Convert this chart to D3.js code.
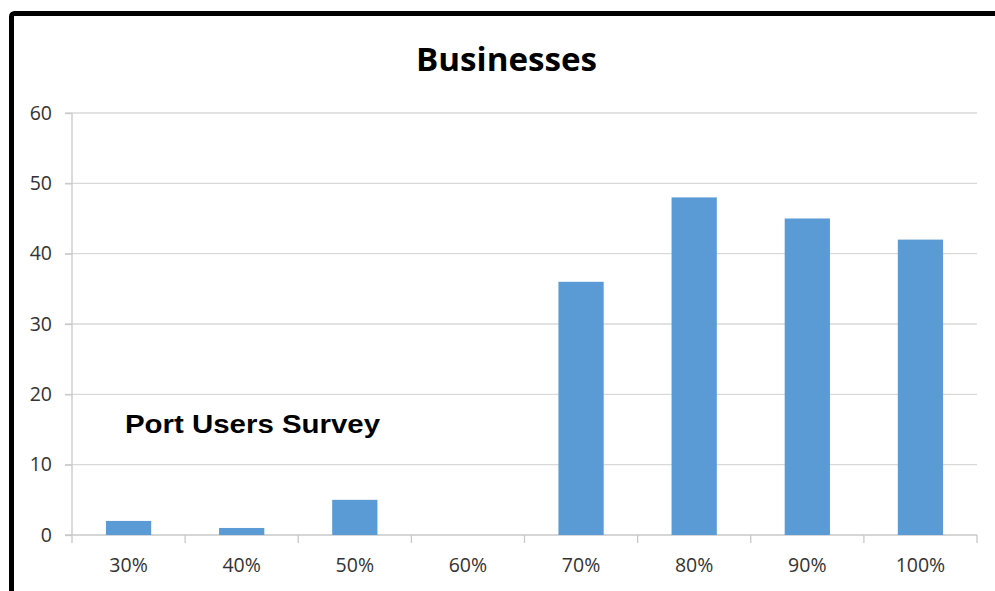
<!DOCTYPE html>
<html>
<head>
<meta charset="utf-8">
<script src="https://cdn.jsdelivr.net/npm/d3@7"></script>
<style>
  body { margin: 0; background: #fff; }
  svg { display: block; }
</style>
</head>
<body>
<div id="chart-container"></div>
<script>
// Chart data
const categories = ["30%", "40%", "50%", "60%", "70%", "80%", "90%", "100%"];
const counts = [2, 1, 5, 0, 36, 48, 45, 42];
const yTicks = [0, 10, 20, 30, 40, 50, 60];
const title = "Businesses";
const note = "Port Users Survey";

const W = 995, H = 591;
const margin = { top: 113, right: 18, bottom: 56, left: 72 };
const width = W - margin.left - margin.right;
const height = H - margin.top - margin.bottom;
const labelFont = "'Open Sans', Lato, sans-serif";

const svg = d3.select("#chart-container")
  .append("svg")
  .attr("width", W)
  .attr("height", H);

// Outer black frame (only top and left visible in the picture)
svg.append("rect")
  .attr("x", 11.5)
  .attr("y", 13.5)
  .attr("width", W + 20)
  .attr("height", H + 20)
  .attr("rx", 3)
  .attr("fill", "none")
  .attr("stroke", "#000")
  .attr("stroke-width", 5);

const g = svg.append("g")
  .attr("transform", `translate(${margin.left},${margin.top})`);

const x = d3.scaleBand().domain(categories).range([0, width]).paddingInner(0.6).paddingOuter(0.3);
const xBand = d3.scaleBand().domain(categories).range([0, width]);
const y = d3.scaleLinear().domain([0, 60]).range([height, 0]);

// Horizontal gridlines
g.selectAll(".grid")
  .data(yTicks.filter(d => d > 0))
  .join("line")
  .attr("x1", -7)
  .attr("x2", width)
  .attr("y1", d => y(d))
  .attr("y2", d => y(d))
  .attr("stroke", "#d9d9d9")
  .attr("stroke-width", 1.3);

// y axis
g.append("g")
  .call(d3.axisLeft(y).tickValues(yTicks).tickSize(7).tickPadding(13))
  .call(a => a.select(".domain").attr("stroke", "#c8c8c8").attr("stroke-width", 1.3).attr("d", `M0,0V${height}`))
  .call(a => a.selectAll(".tick line").attr("stroke", "#c8c8c8").attr("stroke-width", 1.3))
  .call(a => a.selectAll(".tick text")
    .attr("fill", "#333")
    .style("font-family", labelFont)
    .style("font-size", "19.5px"));

// x axis: ticks at the category boundaries
const bounds = categories.map(c => xBand(c)).concat([width]);
g.append("line")
  .attr("x1", -7).attr("x2", width)
  .attr("y1", height).attr("y2", height)
  .attr("stroke", "#c8c8c8").attr("stroke-width", 1.3);
g.selectAll(".xtick")
  .data(bounds)
  .join("line")
  .attr("x1", d => d).attr("x2", d => d)
  .attr("y1", height).attr("y2", height + 8)
  .attr("stroke", "#c8c8c8").attr("stroke-width", 1.3);
g.selectAll(".xlabel")
  .data(categories)
  .join("text")
  .attr("x", d => xBand(d) + xBand.bandwidth() / 2)
  .attr("y", height + 37)
  .attr("text-anchor", "middle")
  .attr("fill", "#333")
  .style("font-family", labelFont)
  .style("font-size", "19.5px")
  .text(d => d);

// Bars
g.selectAll(".bar")
  .data(categories.map((c, i) => ({ c, v: counts[i] })))
  .join("rect")
  .attr("x", d => x(d.c))
  .attr("y", d => y(d.v))
  .attr("width", x.bandwidth())
  .attr("height", d => height - y(d.v))
  .attr("fill", "#5b9bd5");

// Title
svg.append("text")
  .attr("x", 416)
  .attr("y", 71)
  .attr("fill", "#000")
  .attr("textLength", 181)
  .attr("lengthAdjust", "spacingAndGlyphs")
  .style("font-family", "'Open Sans', Lato, sans-serif")
  .style("font-weight", "bold")
  .style("font-size", "32px")
  .text(title);

// Annotation
svg.append("text")
  .attr("x", 125)
  .attr("y", 433)
  .attr("fill", "#000")
  .attr("textLength", 255)
  .attr("lengthAdjust", "spacingAndGlyphs")
  .style("font-family", "'Liberation Sans', Arial, sans-serif")
  .style("font-weight", "bold")
  .style("font-size", "25px")
  .text(note);
</script>
</body>
</html>
